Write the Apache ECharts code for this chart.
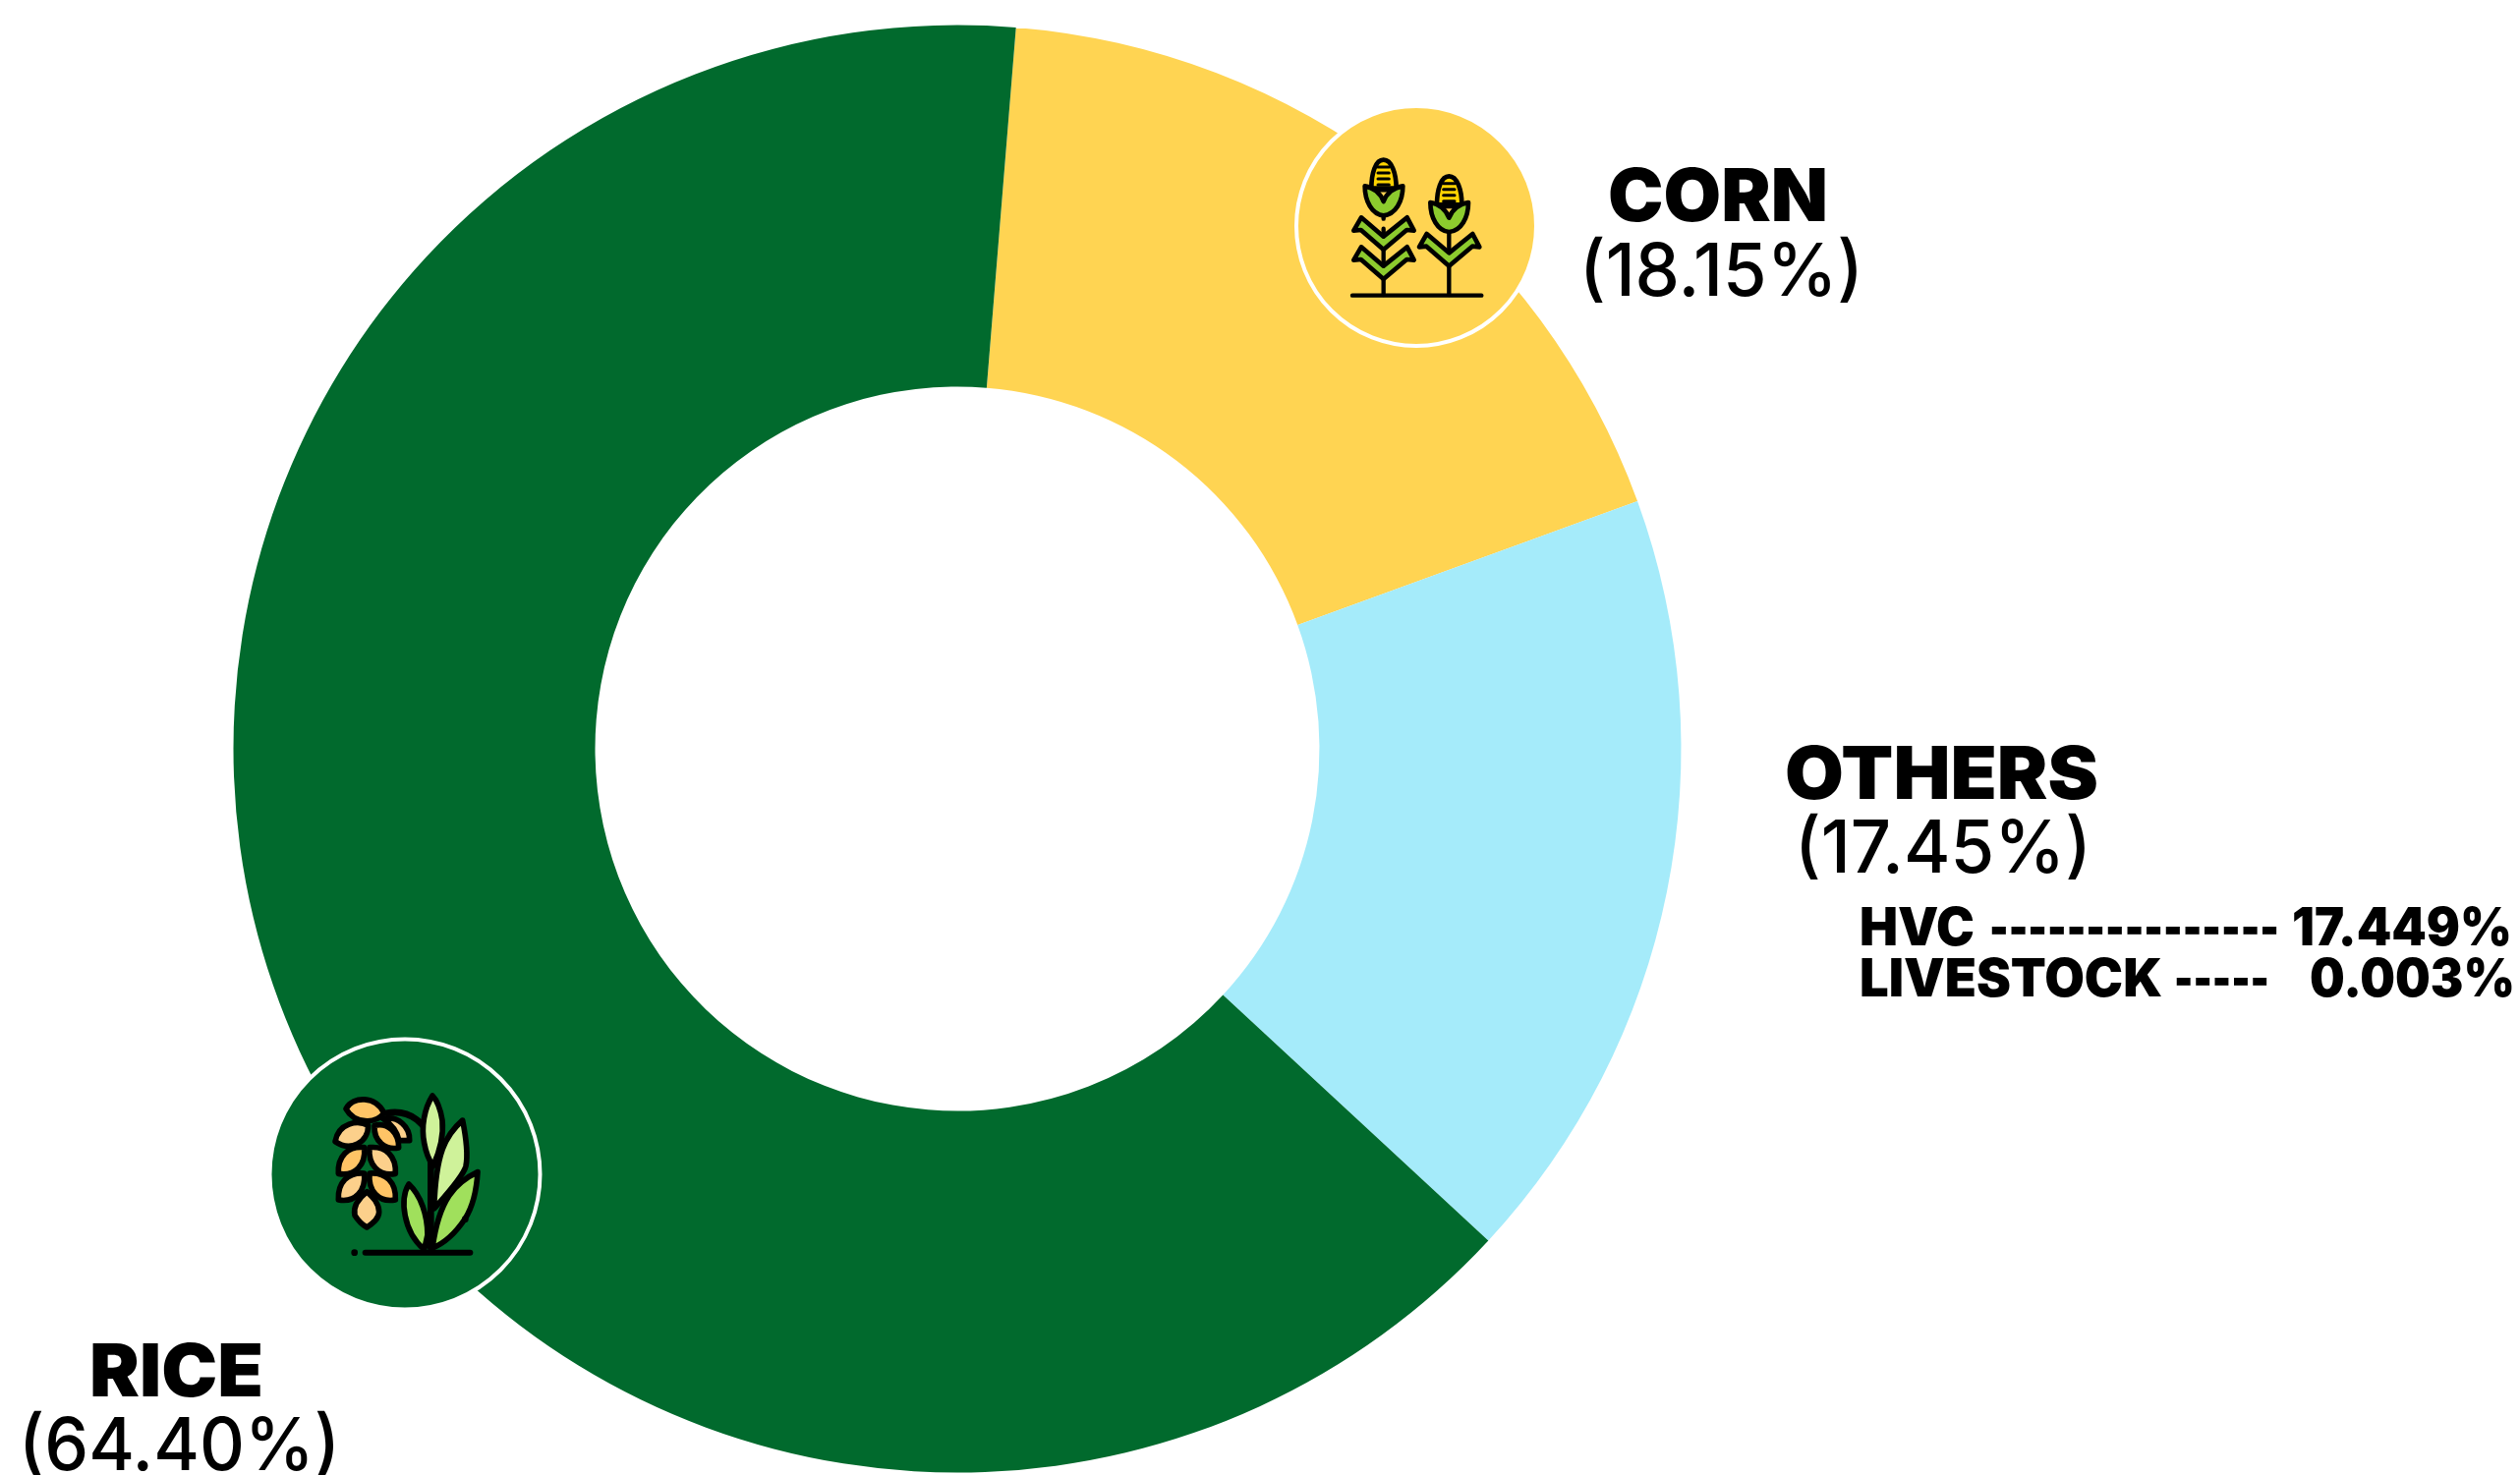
<!DOCTYPE html>
<html>
<head>
<meta charset="utf-8">
<style>html,body{margin:0;padding:0;background:#fff}#c{width:2564px;height:1501px}</style>
<script src="https://cdn.jsdelivr.net/npm/echarts@6/dist/echarts.min.js"></script>
</head>
<body>
<div id="c"></div>
<script>
var categories = ['CORN', 'OTHERS', 'RICE'];
var shares = [18.15, 17.45, 64.40];
var sliceColors = ['#FFD452', '#A5EBFA', '#016A2D'];
var breakdownNames = ['HVC', 'LIVESTOCK'];
var breakdownDashes = ['---------------', '-----'];
var breakdownValues = ['17.449%', '0.003%'];

var FONT = 'Inter, "Noto Sans", sans-serif';
var measure = document.createElement('canvas').getContext('2d');
function fitted(text, left, right, cy, size, weight) {
  measure.font = weight + ' ' + size + 'px ' + FONT;
  var w = measure.measureText(text).width;
  return {
    type: 'text', x: left, y: cy, scaleX: (right - left) / w, z: 100, silent: true,
    style: { text: text, x: 0, y: 0, fill: '#000', font: weight + ' ' + size + 'px ' + FONT, textAlign: 'left', textVerticalAlign: 'middle' }
  };
}
var shapeCount = 0;
function p(d, fill, lw) {
  var name = 'iconShape' + (shapeCount++);
  echarts.graphic.registerShape(name, echarts.graphic.extendPath(d));
  return { type: name, z: 102, silent: true, shape: {},
    style: { fill: fill || 'none', stroke: '#000', lineWidth: lw == null ? 14 : lw, lineJoin: 'round', lineCap: 'round' } };
}
function dot(cx, cy, r) {
  return { type: 'circle', z: 102, silent: true, shape: { cx: cx, cy: cy, r: r }, style: { fill: '#000' } };
}
function badge(cx, cy, r, fill) {
  return { type: 'circle', z: 100, silent: true, shape: { cx: cx, cy: cy, r: r }, style: { fill: fill, stroke: '#fff', lineWidth: 4 } };
}
function cornLeafPair(ox, oy) {
  var g = '#8CCB2E';
  function pt(x, y) { return (x + ox) + ' ' + (y + oy); }
  return [
    p('M' + pt(353, 492) + ' L' + pt(284, 432) + ' L' + pt(262, 434) + ' L' + pt(285, 394) + ' L' + pt(353, 452) + ' L' + pt(425, 394) + ' L' + pt(446, 434) + ' L' + pt(424, 432) + ' Z', g, 14)
  ];
}
function cornPlant(ox, oy, pairs) {
  var out = [];
  function pt(x, y) { return (x + ox) + ' ' + (y + oy); }
  pairs.forEach(function (py) { out = out.concat(cornLeafPair(ox, oy + py)); });
  out.push(p('M' + pt(353, 218) + ' C' + pt(328, 218) + ' ' + pt(316, 260) + ' ' + pt(316, 305) + ' L' + pt(392, 305) + ' C' + pt(392, 260) + ' ' + pt(378, 218) + ' ' + pt(353, 218) + ' Z', '#FFD400', 14));
  [240, 258, 276, 294, 312].forEach(function (y) {
    out.push(p('M' + pt(336, y) + ' L' + pt(370, y), null, 9));
  });
  out.push(p('M' + pt(296, 298) + ' C' + pt(296, 345) + ' ' + pt(318, 385) + ' ' + pt(353, 388) + ' C' + pt(390, 385) + ' ' + pt(412, 345) + ' ' + pt(412, 298) + ' C' + pt(385, 302) + ' ' + pt(362, 320) + ' ' + pt(353, 345) + ' C' + pt(344, 320) + ' ' + pt(322, 302) + ' ' + pt(296, 298) + ' Z', '#8CCB2E', 14));
  return out;
}
var cornIcon = [
  p('M353 345 L353 398', null, 13), p('M353 428 L353 630', null, 13), p('M553 400 L553 630', null, 13),
  p('M258 632 L652 632', null, 13)
].concat(cornPlant(0, 0, [0, 90])).concat(cornPlant(200, 50, [0]));

var riceIcon = [
  p('M430 278 C500 265 560 310 565 380 L565 690', null, 20),
  p('M420 296 C465 285 502 320 500 362 L468 362 C462 335 445 312 420 296 Z', '#FCD08B', 17),
  p('M306 265 C328 225 398 225 422 278 C398 312 332 312 306 265 Z', '#FFC466', 17),
  p('M273 365 C283 308 342 298 374 316 C374 368 320 398 273 365 Z', '#FCD08B', 17),
  p('M393 316 C435 305 468 340 467 384 C428 392 390 365 393 316 Z', '#FFC466', 17),
  p('M362 383 C312 378 280 410 283 463 C335 472 367 435 362 383 Z', '#FFC466', 17),
  p('M378 383 C428 378 460 410 457 463 C405 472 373 435 378 383 Z', '#FCD08B', 17),
  p('M362 462 C312 458 280 490 283 543 C335 552 367 515 362 462 Z', '#FCD08B', 17),
  p('M378 462 C428 458 460 490 457 543 C405 552 373 515 378 462 Z', '#FFC466', 17),
  p('M370 518 C342 540 328 565 333 590 C343 606 358 620 370 627 C385 617 407 602 407 580 C407 553 388 535 370 518 Z', '#FCD08B', 17),
  p('M570 225 C545 265 535 320 545 370 C552 410 565 430 572 440 C590 400 605 350 600 300 C595 270 585 240 570 225 Z', '#CFF29A', 17),
  p('M662 300 C610 345 580 400 575 570 C610 530 665 470 672 440 C680 400 670 340 662 300 Z', '#CFF29A', 17),
  p('M708 458 C640 490 590 540 570 690 C620 670 650 630 670 600 C695 560 705 510 708 458 Z', '#A0E05C', 17),
  p('M498 495 C470 540 480 640 545 695 L555 650 C555 590 535 530 498 495 Z', '#A0E05C', 17),
  p('M365 704 L685 704', null, 18),
  dot(332, 704, 10), dot(670, 602, 10)
];

var labelBoxes = [
  { nameL: 1636, nameR: 1860, nameY: 203, pctL: 1607, pctR: 1896, pctY: 279 },
  { nameL: 1816, nameR: 2135, nameY: 791, pctL: 1826, pctR: 2128, pctY: 866 },
  { nameL: 91, nameR: 268, nameY: 1399, pctL: 19, pctR: 346, pctY: 1474 }
];
var texts = [];
categories.forEach(function (c, i) {
  var b = labelBoxes[i];
  texts.push(fitted(c, b.nameL, b.nameR, b.nameY, 74, 900));
  texts.push(fitted('(' + shares[i].toFixed(2) + '%)', b.pctL, b.pctR, b.pctY, 74, 500));
});
var rows = [
  { y: 946, nameR: 2009, dashL: 2024, dashR: 2319, valL: 2332, valR: 2556 },
  { y: 998, nameR: 2200, dashL: 2212, dashR: 2309, valL: 2350, valR: 2559 }
];
breakdownNames.forEach(function (n, i) {
  var r = rows[i];
  texts.push(fitted(n, 1892, r.nameR, r.y, 53, 900));
  texts.push(fitted(breakdownDashes[i], r.dashL, r.dashR, r.y, 53, 900));
  texts.push(fitted(breakdownValues[i], r.valL, r.valR, r.y, 53, 900));
});

var chart = echarts.init(document.getElementById('c'), null, { renderer: 'canvas', width: 2564, height: 1501 });
chart.setOption({
  animation: false,
  backgroundColor: '#fff',
  series: [{
    type: 'pie',
    center: [974, 762],
    radius: [368.5, 736.5],
    startAngle: 85.35,
    clockwise: true,
    silent: true,
    label: { show: false },
    labelLine: { show: false },
    data: categories.map(function (c, i) { return { name: c, value: shares[i], itemStyle: { color: sliceColors[i] } }; })
  }],
  graphic: {
    elements: [
      badge(1441, 230, 122, '#FFD452'),
      badge(412, 1195, 137.5, '#016A2D'),
      { type: 'group', x: 1290, y: 90, scaleX: 1 / 3, scaleY: 1 / 3, children: cornIcon },
      { type: 'group', x: 250, y: 1040, scaleX: 1 / 3, scaleY: 1 / 3, children: riceIcon }
    ].concat(texts)
  }
});
</script>
</body>
</html>
